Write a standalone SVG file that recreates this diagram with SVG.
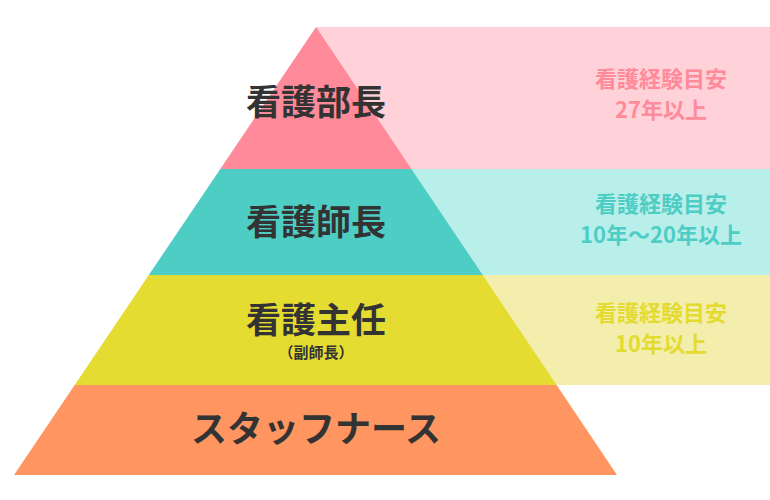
<svg xmlns="http://www.w3.org/2000/svg" width="770" height="500" viewBox="0 0 770 500">
<style>
.t{font-family:"Noto Sans CJK JP",sans-serif;font-weight:bold;fill:#333;text-anchor:middle}
.p{font-family:"Noto Sans CJK JP",sans-serif;font-weight:bold;font-size:22px;text-anchor:middle}
</style>
<rect width="770" height="500" fill="#fff"/>
<g id="panels">
<rect x="316" y="27" width="454" height="142" fill="#FFD1D8"/>
<rect x="400" y="169" width="370" height="106" fill="#B8EFEB"/>
<rect x="470" y="275" width="300" height="110" fill="#F3EEAC"/>
</g>
<g id="level1"><polygon points="316,27 411.4,169 220.3,169" fill="#FF8A99"/>
<text class="t" x="316" y="115" font-size="35">看護部長</text></g>
<g id="level2"><polygon points="220.3,169 411.4,169 482.7,275 148.8,275" fill="#4ECDC4"/>
<text class="t" x="316" y="235" font-size="35">看護師長</text></g>
<g id="level3"><polygon points="148.8,275 482.7,275 556.6,385 74.7,385" fill="#E5DC32"/>
<text class="t" x="316" y="333" font-size="35">看護主任</text>
<text class="t" x="316" y="358" font-size="15">（副師長）</text></g>
<g id="level4"><polygon points="74.7,385 556.6,385 617,475 14,475" fill="#FF9560"/>
<text class="t" x="316" y="442" font-size="36">スタッフナース</text></g>
<g id="labels">
<text class="p" x="661" y="87" fill="#FF8A99">看護経験目安</text>
<text class="p" x="661" y="118" fill="#FF8A99">27年以上</text>
<text class="p" x="661" y="212" fill="#4ECDC4">看護経験目安</text>
<text class="p" x="661" y="243" fill="#4ECDC4">10年～20年以上</text>
<text class="p" x="661" y="321" fill="#E3DB30">看護経験目安</text>
<text class="p" x="661" y="352" fill="#E3DB30">10年以上</text>
</g>
<g id="connectors"/>
</svg>
